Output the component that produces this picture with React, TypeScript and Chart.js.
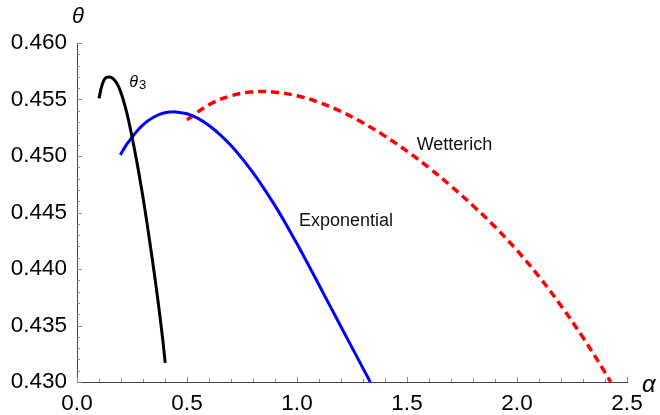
import { useEffect, useRef } from "react";
import { Chart, registerables } from "chart.js";

Chart.register(...registerables);

// Axis ranges and ticks
const xMin = 0;
const xMax = 2.5;
const xMajorStep = 0.5;
const xMinorStep = 0.1;
const yMin = 0.43;
const yMax = 0.46;
const yMajorStep = 0.005;
const yMinorStep = 0.001;

// θ3 curve (black)
const theta3X = [0.100, 0.110, 0.120, 0.130, 0.145, 0.160, 0.175, 0.190, 0.205, 0.220, 0.235, 0.250, 0.270, 0.290, 0.310, 0.330, 0.350, 0.370, 0.390, 0.401];
const theta3Y = [0.4551, 0.4560, 0.4566, 0.4569, 0.4570, 0.4569, 0.4566, 0.4561, 0.4553, 0.4543, 0.4531, 0.4517, 0.4497, 0.4475, 0.4451, 0.4425, 0.4398, 0.4369, 0.4337, 0.4317];

// Exponential curve (blue)
const expX = [0.197, 0.225, 0.250, 0.275, 0.300, 0.325, 0.350, 0.375, 0.400, 0.425, 0.447, 0.500, 0.550, 0.600, 0.650, 0.700, 0.750, 0.800, 0.850, 0.900, 0.950, 1.000, 1.050, 1.100, 1.200, 1.333];
const expY = [0.4501, 0.4510, 0.45165, 0.45225, 0.45275, 0.45315, 0.45345, 0.45368, 0.45382, 0.45389, 0.4539, 0.45374, 0.45333, 0.4527, 0.45189, 0.45092, 0.44979, 0.44852, 0.44712, 0.44561, 0.44397, 0.44223, 0.44043, 0.43859, 0.43489, 0.4300];

// Wetterich curve (red dashed)
const wetX = [0.500, 0.600, 0.700, 0.800, 0.900, 1.000, 1.100, 1.200, 1.300, 1.400, 1.500, 1.600, 1.700, 1.800, 1.900, 2.000, 2.100, 2.200, 2.300, 2.400, 2.426];
const wetY = [0.4532, 0.45453, 0.45533, 0.45568, 0.45565, 0.45533, 0.45475, 0.45394, 0.45293, 0.45176, 0.45043, 0.44896, 0.44734, 0.4456, 0.44373, 0.44165, 0.43933, 0.43675, 0.43393, 0.43085, 0.4300];

// Curve labels anchored in data coordinates
const labelTheta3 = { x: 0.238, y: 0.45613 };
const labelWetterich = { x: 1.544, y: 0.45053, text: "Wetterich" };
const labelExponential = { x: 1.009, y: 0.44381, text: "Exponential" };

const FONT = '"Liberation Sans", Arial, Helvetica, sans-serif';

const toPoints = (xs: number[], ys: number[]) => xs.map((x, i) => ({ x, y: ys[i] }));

const decorPlugin = {
  id: "decor",
  afterDraw(chart: any) {
    const { ctx, chartArea } = chart;
    const xs = chart.scales.x;
    const ys = chart.scales.y;
    ctx.save();
    ctx.strokeStyle = "#8a8a8a";
    ctx.lineWidth = 1;
    // x ticks (inward)
    const nx = Math.round((xMax - xMin) / xMinorStep);
    const perMajorX = Math.round(xMajorStep / xMinorStep);
    for (let i = 0; i <= nx; i++) {
      const px = Math.round(xs.getPixelForValue(xMin + i * xMinorStep)) + 0.5;
      const len = i % perMajorX === 0 ? 5 : 3;
      ctx.beginPath();
      ctx.moveTo(px, chartArea.bottom);
      ctx.lineTo(px, chartArea.bottom - len);
      ctx.stroke();
    }
    const ny = Math.round((yMax - yMin) / yMinorStep);
    const perMajorY = Math.round(yMajorStep / yMinorStep);
    for (let j = 0; j <= ny; j++) {
      const py = Math.round(ys.getPixelForValue(yMin + j * yMinorStep)) + 0.5;
      const len = j % perMajorY === 0 ? 5 : 3;
      ctx.beginPath();
      ctx.moveTo(chartArea.left, py);
      ctx.lineTo(chartArea.left + len, py);
      ctx.stroke();
    }
    // axis titles
    ctx.fillStyle = "#000";
    ctx.textBaseline = "alphabetic";
    ctx.textAlign = "left";
    ctx.font = `italic 22px ${FONT}`;
    ctx.fillText("θ", chartArea.left - 5, chartArea.top - 20);
    ctx.font = `italic 24px ${FONT}`;
    ctx.fillText("α", chartArea.right + 15, chartArea.bottom + 10);
    // curve labels
    ctx.font = `italic 16px ${FONT}`;
    const tx = xs.getPixelForValue(labelTheta3.x);
    const ty = ys.getPixelForValue(labelTheta3.y);
    ctx.fillText("θ", tx, ty);
    const tw = ctx.measureText("θ").width;
    ctx.font = `13px ${FONT}`;
    ctx.fillText("3", tx + tw + 1, ty + 2);
    ctx.font = `18px ${FONT}`;
    ctx.fillStyle = "#111";
    ctx.fillText(labelWetterich.text, xs.getPixelForValue(labelWetterich.x), ys.getPixelForValue(labelWetterich.y));
    ctx.fillText(labelExponential.text, xs.getPixelForValue(labelExponential.x), ys.getPixelForValue(labelExponential.y));
    ctx.restore();
  },
};

export default function App() {
  const canvasRef = useRef<HTMLCanvasElement | null>(null);
  useEffect(() => {
    document.body.style.margin = "0";
    const canvas = canvasRef.current;
    if (!canvas) return;
    const common = { pointRadius: 0, tension: 0.4, fill: false };
    const chart = new Chart(canvas, {
      type: "line",
      data: {
        datasets: [
          {
            label: "θ3",
            data: toPoints(theta3X, theta3Y),
            borderColor: "#000000",
            borderWidth: 3,
            ...common,
          },
          {
            label: "Exponential",
            data: toPoints(expX, expY),
            borderColor: "#0000ff",
            borderWidth: 3,
            ...common,
          },
          {
            label: "Wetterich",
            data: toPoints(wetX, wetY),
            borderColor: "#ff0000",
            borderWidth: 3.5,
            borderDash: [8, 5],
            ...common,
          },
        ],
      },
      options: {
        animation: false,
        responsive: false,
        maintainAspectRatio: false,
        events: [],
        layout: { padding: { left: 0, top: 43, right: 33, bottom: 0 } },
        plugins: { legend: { display: false }, tooltip: { enabled: false }, title: { display: false } },
        scales: {
          x: {
            type: "linear",
            min: xMin,
            max: xMax,
            afterFit: (s: any) => {
              s.height = 33;
            },
            ticks: {
              stepSize: xMajorStep,
              padding: 8,
              color: "#000",
              font: { family: FONT, size: 22.5 },
              maxRotation: 0,
              callback: (v: any) => Number(v).toFixed(1),
            },
            grid: { display: true, drawOnChartArea: false, drawTicks: false },
            border: { display: true, color: "#444", width: 1 },
          },
          y: {
            type: "linear",
            min: yMin,
            max: yMax,
            afterFit: (s: any) => {
              s.width = 77;
            },
            ticks: {
              stepSize: yMajorStep,
              padding: 10,
              color: "#000",
              font: { family: FONT, size: 22.5 },
              callback: (v: any) => Number(v).toFixed(3),
            },
            grid: { display: true, drawOnChartArea: false, drawTicks: false },
            border: { display: true, color: "#444", width: 1 },
          },
        },
      },
      plugins: [decorPlugin],
    });
    return () => chart.destroy();
  }, []);
  return (
    <div style={{ width: 660, height: 415 }}>
      <canvas ref={canvasRef} width={660} height={415} />
    </div>
  );
}
